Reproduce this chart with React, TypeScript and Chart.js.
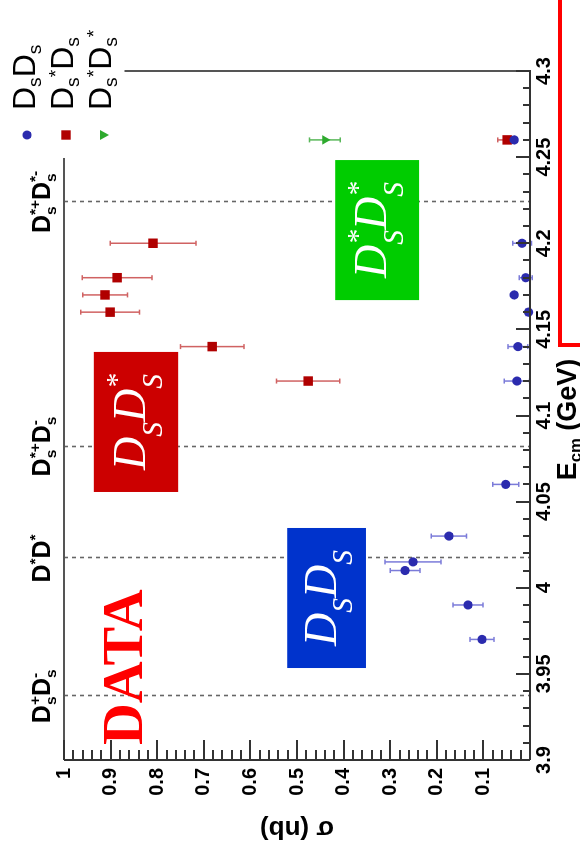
import React, { useEffect, useRef } from 'react';
import { Chart, registerables } from 'chart.js';

Chart.register(...registerables);

// ---------- data (E_cm in GeV, sigma in nb) ----------
const dsdsEnergy = [3.97, 3.99, 4.01, 4.015, 4.03, 4.06, 4.12, 4.14, 4.16, 4.17, 4.18, 4.2, 4.26];
const dsdsSigma = [0.103, 0.133, 0.268, 0.251, 0.174, 0.052, 0.028, 0.026, 0.003, 0.034, 0.009, 0.017, 0.034];
const dsdsError = [0.026, 0.032, 0.032, 0.06, 0.038, 0.028, 0.027, 0.021, 0.006, 0.005, 0.014, 0.02, 0.006];

const dsStarDsEnergy = [4.12, 4.14, 4.16, 4.17, 4.18, 4.2, 4.26];
const dsStarDsSigma = [0.476, 0.682, 0.901, 0.912, 0.886, 0.809, 0.049];
const dsStarDsError = [0.068, 0.068, 0.063, 0.048, 0.075, 0.092, 0.02];

const dsStarDsStarEnergy = [4.26];
const dsStarDsStarSigma = [0.44];
const dsStarDsStarError = [0.033];

const thresholdEnergies = [3.937, 4.017, 4.082, 4.224];

type Tok = { t: string; k?: 'sub' | 'sup' | 'ss'; t2?: string };

const thresholdLabels: Tok[][] = [
  [{ t: 'D' }, { t: 's', k: 'ss', t2: '+' }, { t: 'D' }, { t: 's', k: 'ss', t2: '-' }],
  [{ t: 'D' }, { t: '*', k: 'sup' }, { t: 'D' }, { t: '*', k: 'sup' }],
  [{ t: 'D' }, { t: 's', k: 'ss', t2: '*+' }, { t: 'D' }, { t: 's', k: 'ss', t2: '-' }],
  [{ t: 'D' }, { t: 's', k: 'ss', t2: '*+' }, { t: 'D' }, { t: 's', k: 'ss', t2: '*-' }],
];

const legendLabels: Tok[][] = [
  [{ t: 'D' }, { t: 's', k: 'sub' }, { t: 'D' }, { t: 's', k: 'sub' }],
  [{ t: 'D' }, { t: 's', k: 'sub' }, { t: '*', k: 'sup' }, { t: 'D' }, { t: 's', k: 'sub' }],
  [{ t: 'D' }, { t: 's', k: 'sub' }, { t: '*', k: 'sup' }, { t: 'D' }, { t: 's', k: 'sub' }, { t: '*', k: 'sup' }],
];

const boxLabels: Tok[][] = [
  [{ t: 'D' }, { t: 'S', k: 'sub' }, { t: 'D' }, { t: 'S', k: 'sub' }],
  [{ t: 'D' }, { t: 'S', k: 'sub' }, { t: 'D' }, { t: 'S', k: 'ss', t2: '*' }],
  [{ t: 'D' }, { t: 'S', k: 'ss', t2: '*' }, { t: 'D' }, { t: 'S', k: 'ss', t2: '*' }],
];

const xTitle: Tok[] = [{ t: 'E' }, { t: 'cm', k: 'sub' }, { t: ' (GeV)' }];
const yTitle = 'σ (nb)';
const dataText = 'DATA';

const BLUE = '#2b2bae';
const RED = '#b00000';
const GREEN = '#2eaa2e';

// annotation boxes in data coordinates: [E0, E1, sigmaLow, sigmaHigh]
const boxes = [
  { range: [3.9534, 4.0347, 0.352, 0.521], color: '#0033cc', label: 0 },
  { range: [4.0556, 4.1369, 0.755, 0.936], color: '#cc0000', label: 1 },
  { range: [4.167, 4.2483, 0.238, 0.418], color: '#00cc00', label: 2 },
];

const SANS = '"Liberation Sans", Arial, Helvetica, sans-serif';
const SERIF = '"Liberation Serif", "Times New Roman", serif';

function drawRich(
  ctx: CanvasRenderingContext2D,
  toks: Tok[],
  x: number,
  y: number,
  size: number,
  font: (s: number) => string,
  align: 'left' | 'center',
  r = 0.62,
  subOff = 0.22,
  supOff = 0.36
) {
  const widths = toks.map((tk) => {
    if (!tk.k) {
      ctx.font = font(size);
      return ctx.measureText(tk.t).width;
    }
    ctx.font = font(size * r);
    if (tk.k === 'ss') return Math.max(ctx.measureText(tk.t).width, ctx.measureText(tk.t2 || '').width);
    return ctx.measureText(tk.t).width;
  });
  const total = widths.reduce((a, b) => a + b, 0);
  let cx = align === 'center' ? x - total / 2 : x;
  ctx.textAlign = 'left';
  ctx.textBaseline = 'alphabetic';
  toks.forEach((tk, i) => {
    if (!tk.k) {
      ctx.font = font(size);
      ctx.fillText(tk.t, cx, y);
    } else {
      ctx.font = font(size * r);
      if (tk.k === 'sub' || tk.k === 'ss') ctx.fillText(tk.t, cx, y + size * subOff);
      if (tk.k === 'sup') ctx.fillText(tk.t, cx, y - size * supOff);
      if (tk.k === 'ss') ctx.fillText(tk.t2 || '', cx, y - size * supOff);
    }
    cx += widths[i];
  });
}

const errorSeries = [
  { e: dsStarDsStarEnergy, v: dsStarDsStarSigma, err: dsStarDsStarError, color: 'rgba(60,170,60,0.85)' },
  { e: dsStarDsEnergy, v: dsStarDsSigma, err: dsStarDsError, color: 'rgba(200,70,70,0.85)' },
  { e: dsdsEnergy, v: dsdsSigma, err: dsdsError, color: 'rgba(100,100,210,0.85)' },
];

const decorPlugin = {
  id: 'decor',
  beforeDatasetsDraw(chart: any) {
    const { ctx, chartArea: ca, scales } = chart;
    const x = scales.x;
    const y = scales.y;
    ctx.save();
    // threshold dashed lines
    ctx.strokeStyle = '#666';
    ctx.lineWidth = 1.6;
    ctx.setLineDash([4, 4]);
    thresholdEnergies.forEach((e) => {
      const px = Math.round(x.getPixelForValue(e)) + 0.5;
      ctx.beginPath();
      ctx.moveTo(px, ca.top);
      ctx.lineTo(px, ca.bottom);
      ctx.stroke();
    });
    ctx.setLineDash([]);
    // colored boxes
    boxes.forEach((b) => {
      const x1 = x.getPixelForValue(b.range[0]);
      const x2 = x.getPixelForValue(b.range[1]);
      const y1 = y.getPixelForValue(b.range[3]);
      const y2 = y.getPixelForValue(b.range[2]);
      ctx.fillStyle = b.color;
      ctx.fillRect(x1, y1, x2 - x1, y2 - y1);
      ctx.fillStyle = '#fff';
      drawRich(ctx, boxLabels[b.label], (x1 + x2) / 2, (y1 + y2) / 2 + 9, 46,
        (s) => `italic ${s}px ${SERIF}`, 'center', 0.64, 0.36, 0.42);
    });
    // DATA
    ctx.fillStyle = '#ff0000';
    ctx.font = `bold 58px ${SERIF}`;
    ctx.textAlign = 'left';
    ctx.textBaseline = 'alphabetic';
    ctx.fillText(dataText, x.getPixelForValue(3.9087), y.getPixelForValue(0.833));
    // error bars
    errorSeries.forEach((s) => {
      ctx.strokeStyle = s.color;
      ctx.lineWidth = 1.5;
      s.e.forEach((e, i) => {
        const px = x.getPixelForValue(e);
        const y1 = y.getPixelForValue(s.v[i] - s.err[i]);
        const y2 = y.getPixelForValue(s.v[i] + s.err[i]);
        ctx.beginPath();
        ctx.moveTo(px, y1);
        ctx.lineTo(px, y2);
        ctx.moveTo(px - 2.5, y1);
        ctx.lineTo(px + 2.5, y1);
        ctx.moveTo(px - 2.5, y2);
        ctx.lineTo(px + 2.5, y2);
        ctx.stroke();
      });
    });
    ctx.restore();
  },
  afterDraw(chart: any) {
    const { ctx, chartArea: ca, scales } = chart;
    const x = scales.x;
    const y = scales.y;
    ctx.save();
    // frame (top and right) with a gap for the legend
    ctx.strokeStyle = '#555';
    ctx.lineWidth = 2;
    ctx.beginPath();
    ctx.moveTo(ca.left, ca.top);
    ctx.lineTo(x.getPixelForValue(4.2495), ca.top);
    ctx.moveTo(ca.right, y.getPixelForValue(0.87));
    ctx.lineTo(ca.right, ca.bottom);
    ctx.stroke();
    // axes
    ctx.strokeStyle = '#333';
    ctx.beginPath();
    ctx.moveTo(ca.left, ca.bottom);
    ctx.lineTo(ca.right + 1, ca.bottom);
    ctx.moveTo(ca.left, ca.top);
    ctx.lineTo(ca.left, ca.bottom);
    ctx.stroke();
    // ticks on E axis (inside)
    ctx.lineWidth = 2;
    ctx.beginPath();
    for (let i = 0; i <= 40; i++) {
      const px = Math.round(x.getPixelForValue(3.9 + i * 0.01));
      const len = i % 5 === 0 ? 14 : 7;
      ctx.moveTo(px, ca.bottom);
      ctx.lineTo(px, ca.bottom - len);
    }
    // ticks on sigma axis (inside)
    for (let i = 0; i <= 50; i++) {
      const py = Math.round(y.getPixelForValue(i * 0.02));
      const len = i % 5 === 0 ? 20 : 10;
      ctx.moveTo(ca.left, py);
      ctx.lineTo(ca.left + len, py);
    }
    ctx.stroke();
    // threshold labels
    ctx.fillStyle = '#000';
    thresholdEnergies.forEach((e, i) => {
      drawRich(ctx, thresholdLabels[i], x.getPixelForValue(e), ca.top - 14, 25,
        (s) => `bold ${s}px ${SANS}`, 'center', 0.62, 0.24, 0.4);
    });
    // legend
    const markerX = ca.right - 64;
    const textX = ca.right - 39;
    const rows = [27, 66, 104];
    const baselines = [35, 73, 111];
    ctx.fillStyle = BLUE;
    ctx.beginPath();
    ctx.arc(markerX, rows[0], 4.5, 0, Math.PI * 2);
    ctx.fill();
    ctx.fillStyle = RED;
    ctx.fillRect(markerX - 4.7, rows[1] - 4.7, 9.4, 9.4);
    ctx.fillStyle = GREEN;
    ctx.beginPath();
    ctx.moveTo(markerX - 5, rows[2] - 4);
    ctx.lineTo(markerX + 5, rows[2] - 4);
    ctx.lineTo(markerX, rows[2] + 5);
    ctx.closePath();
    ctx.fill();
    ctx.fillStyle = '#000';
    legendLabels.forEach((l, i) => {
      drawRich(ctx, l, textX, baselines[i], 32, (s) => `${s}px ${SANS}`, 'left', 0.6, 0.2, 0.34);
    });
    // axis titles
    ctx.fillStyle = '#000';
    drawRich(ctx, xTitle, (ca.left + ca.right) / 2 - 4, 576, 27, (s) => `bold ${s}px ${SANS}`, 'center', 0.62, 0.2, 0.4);
    ctx.save();
    ctx.translate(18, (ca.top + ca.bottom) / 2);
    ctx.rotate(-Math.PI / 2);
    ctx.font = `bold 26px ${SANS}`;
    ctx.textAlign = 'center';
    ctx.textBaseline = 'middle';
    ctx.fillText(yTitle, 0, 0);
    ctx.restore();
    // red outline box
    ctx.strokeStyle = '#ff0000';
    ctx.lineWidth = 4;
    ctx.strokeRect(501, 560, 400, 100);
    ctx.restore();
  },
};

export default function App() {
  const ref = useRef<HTMLCanvasElement>(null);
  useEffect(() => {
    const tickFont = { family: SANS, size: 20, weight: 'bold' as const };
    const chart = new Chart(ref.current as HTMLCanvasElement, {
      type: 'scatter',
      data: {
        datasets: [
          {
            label: 'DsDs',
            data: dsdsEnergy.map((e, i) => ({ x: e, y: dsdsSigma[i] })),
            pointStyle: 'circle',
            pointRadius: 4.6,
            pointBackgroundColor: BLUE,
            pointBorderColor: BLUE,
            pointBorderWidth: 0,
            showLine: false,
            clip: false,
          },
          {
            label: 'Ds*Ds',
            data: dsStarDsEnergy.map((e, i) => ({ x: e, y: dsStarDsSigma[i] })),
            pointStyle: 'rect',
            pointRadius: 6.7,
            pointBackgroundColor: RED,
            pointBorderColor: RED,
            pointBorderWidth: 0,
            showLine: false,
            clip: false,
          },
          {
            label: 'Ds*Ds*',
            data: dsStarDsStarEnergy.map((e, i) => ({ x: e, y: dsStarDsStarSigma[i] })),
            pointStyle: 'triangle',
            rotation: 180,
            pointRadius: 5.5,
            pointBackgroundColor: GREEN,
            pointBorderColor: GREEN,
            pointBorderWidth: 0,
            showLine: false,
            clip: false,
          },
        ],
      },
      options: {
        animation: false,
        responsive: false,
        devicePixelRatio: 1,
        events: [],
        layout: { padding: { top: 64, right: 71, left: 0, bottom: 0 } },
        plugins: { legend: { display: false }, tooltip: { enabled: false } },
        scales: {
          x: {
            type: 'linear',
            position: 'bottom',
            min: 3.9,
            max: 4.3,
            grid: { display: false, drawTicks: false },
            border: { display: false },
            ticks: {
              stepSize: 0.05,
              autoSkip: false,
              maxRotation: 0,
              padding: 2,
              color: '#000',
              font: tickFont,
              callback: (v: any) => String(Math.round(Number(v) * 100) / 100),
            },
            afterFit: (s: any) => {
              s.height = 50;
            },
          },
          y: {
            type: 'linear',
            position: 'left',
            min: 0,
            max: 1,
            grid: { display: false, drawTicks: false },
            border: { display: false },
            ticks: {
              stepSize: 0.1,
              autoSkip: false,
              padding: 8,
              color: '#000',
              font: tickFont,
              callback: (v: any) => {
                const n = Math.round(Number(v) * 10) / 10;
                return n === 0 ? '' : String(n);
              },
            },
            afterFit: (s: any) => {
              s.width = 86;
            },
          },
        },
      } as any,
      plugins: [decorPlugin],
    });
    return () => chart.destroy();
  }, []);

  return (
    <div
      style={{
        position: 'absolute',
        left: 0,
        top: 0,
        width: 846,
        height: 580,
        background: '#fff',
        transformOrigin: '0 0',
        transform: 'translateY(846px) rotate(-90deg)',
      }}
    >
      <canvas ref={ref} width={846} height={580} style={{ display: 'block', width: 846, height: 580 }} />
    </div>
  );
}
